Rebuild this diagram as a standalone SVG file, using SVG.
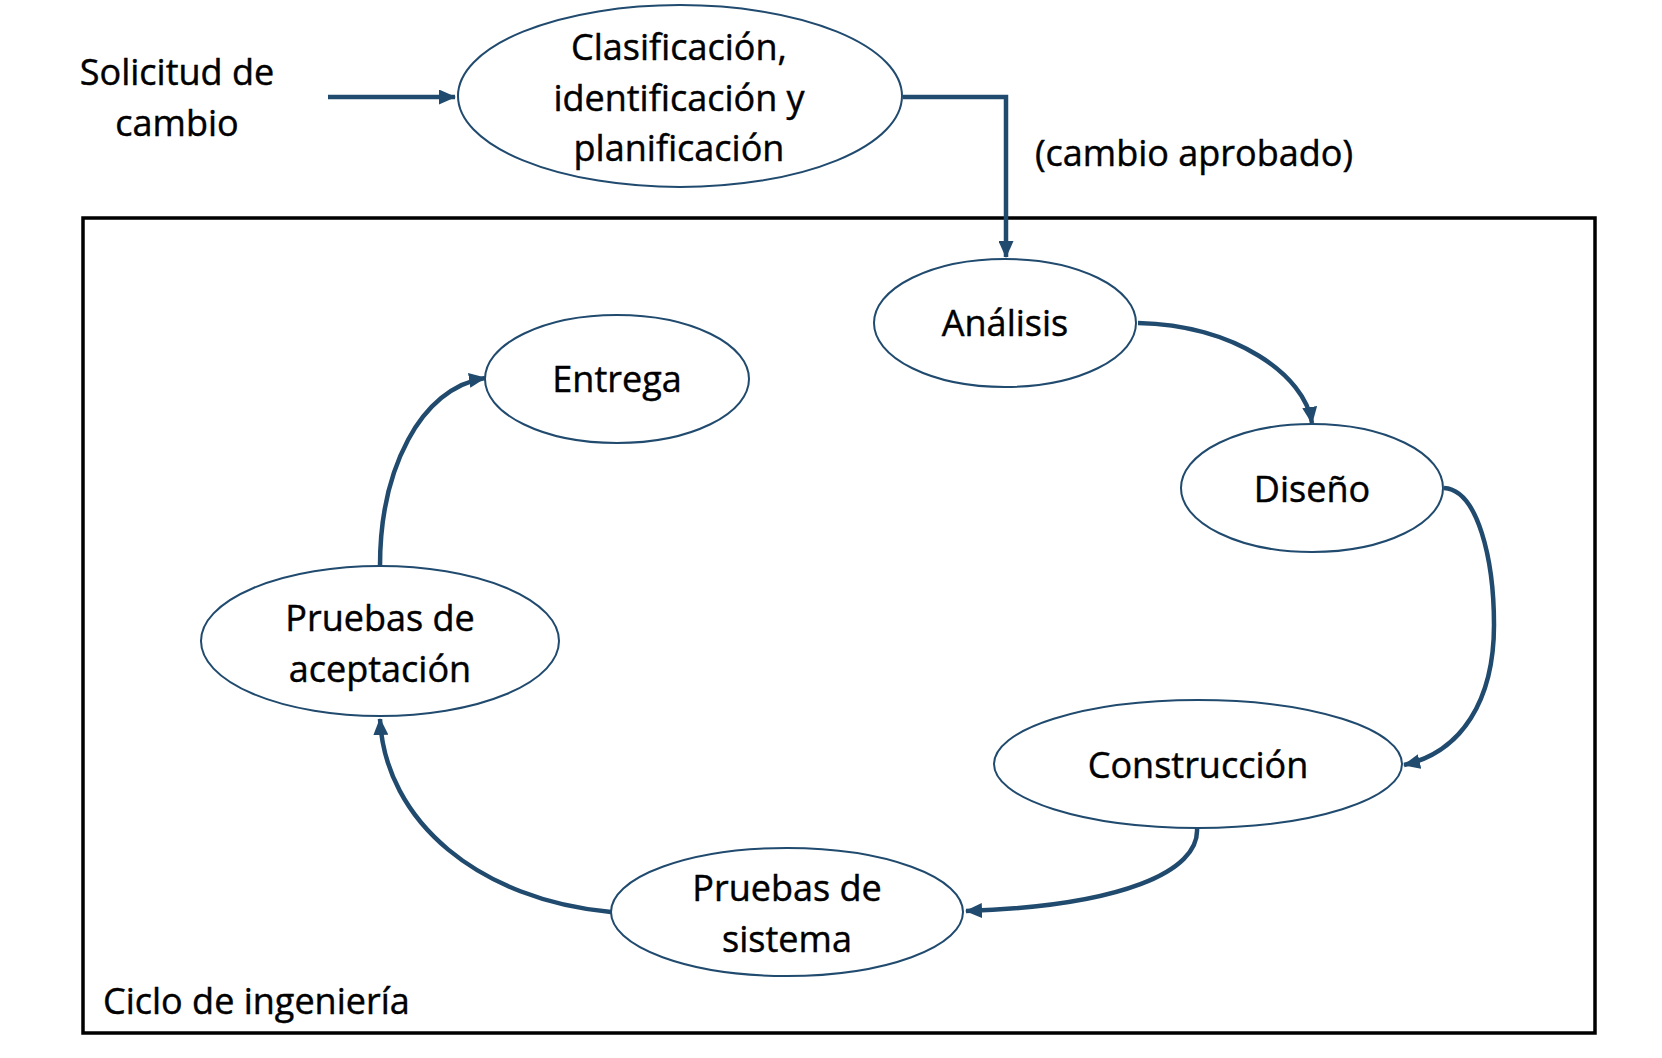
<svg xmlns="http://www.w3.org/2000/svg" width="1662" height="1058" viewBox="0 0 1662 1058">
<defs>
<style>
.node ellipse{fill:#fff;stroke:#204A6E;stroke-width:2}
text{font-family:"Open Sans","Liberation Sans",sans-serif;font-size:36px;fill:#000;stroke:#000;stroke-width:0.45}
.c{text-anchor:middle}
.conn path{fill:none;stroke:#204A6E;stroke-width:4.5}
</style>
<marker id="ah" markerUnits="userSpaceOnUse" markerWidth="17" markerHeight="15" refX="16" refY="7.5" orient="auto" viewBox="0 0 17 15">
<path d="M0,0 L17,7.5 L0,15 z" fill="#204A6E"/>
</marker>
</defs>
<rect width="1662" height="1058" fill="#fff"/>
<g id="frame">
<rect x="83" y="218" width="1512" height="815" fill="none" stroke="#000" stroke-width="3.5"/>
<text x="103" y="1014">Ciclo de ingeniería</text>
</g>
<g id="solicitud">
<text class="c" x="177" y="85">Solicitud de</text>
<text class="c" x="177" y="136">cambio</text>
</g>
<g id="label-aprobado">
<text class="c" x="1194" y="166">(cambio aprobado)</text>
</g>
<g class="conn" id="connectors">
<path d="M328,97 L455,97" marker-end="url(#ah)"/>
<path d="M903,97 L1006,97 L1006,257" marker-end="url(#ah)"/>
<path d="M1138,323 C1235,325 1305,375 1312,423" marker-end="url(#ah)"/>
<path d="M1444,488 C1478,490 1494,560 1494,625 C1494,700 1462,752 1404,765" marker-end="url(#ah)"/>
<path d="M1197,828 C1200,872 1120,906 966,911" marker-end="url(#ah)"/>
<path d="M611,912 C480,900 385,822 380,719" marker-end="url(#ah)"/>
<path d="M380,566 C380,470 420,388 485,378" marker-end="url(#ah)"/>
</g>
<g class="node" id="clasificacion">
<ellipse cx="680" cy="96" rx="222" ry="91"/>
<text class="c" x="679" y="60">Clasificación,</text>
<text class="c" x="679" y="111">identificación y</text>
<text class="c" x="679" y="161">planificación</text>
</g>
<g class="node" id="analisis">
<ellipse cx="1005" cy="323" rx="131" ry="64"/>
<text class="c" x="1005" y="336">Análisis</text>
</g>
<g class="node" id="diseno">
<ellipse cx="1312" cy="488" rx="131" ry="64"/>
<text class="c" x="1312" y="502">Diseño</text>
</g>
<g class="node" id="construccion">
<ellipse cx="1198" cy="764" rx="204" ry="64"/>
<text class="c" x="1198" y="778">Construcción</text>
</g>
<g class="node" id="pruebas-sistema">
<ellipse cx="787" cy="912" rx="176" ry="64"/>
<text class="c" x="787" y="901">Pruebas de</text>
<text class="c" x="787" y="952">sistema</text>
</g>
<g class="node" id="pruebas-aceptacion">
<ellipse cx="380" cy="641" rx="179" ry="75"/>
<text class="c" x="380" y="631">Pruebas de</text>
<text class="c" x="380" y="682">aceptación</text>
</g>
<g class="node" id="entrega">
<ellipse cx="617" cy="379" rx="132" ry="64"/>
<text class="c" x="617" y="392">Entrega</text>
</g>
</svg>
